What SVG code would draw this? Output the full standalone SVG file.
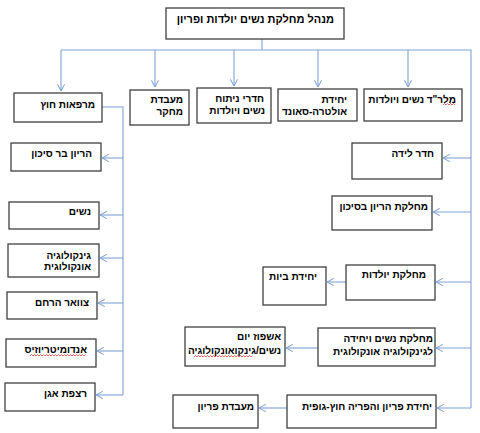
<svg xmlns="http://www.w3.org/2000/svg" width="480" height="433" viewBox="0 0 480 433">
<defs>
<style>
.b{fill:#fff;stroke:#404040;stroke-width:1.3}
.t{font-family:"Liberation Sans",Arial,sans-serif;font-size:10px;font-weight:bold;fill:#000;direction:rtl;text-anchor:start}
.h{font-size:11px}
.c{fill:none;stroke:#7fa3d6;stroke-width:1.1}
.s{fill:none;stroke:#e04040;stroke-width:0.8}
</style>
<marker id="a" viewBox="0 0 10 10" refX="9.5" refY="5" markerWidth="8" markerHeight="8" markerUnits="userSpaceOnUse" orient="auto">
<path d="M1,0.5 L9.5,5 L1,9.5" fill="none" stroke="#7fa3d6" stroke-width="1.3"/>
</marker>
</defs>
<rect width="480" height="433" fill="#fff"/>
<g id="connectors">
<path class="c" d="M262,39 V50 M61,50 H471 V408 M102,107 H123 V395"/>
<path class="c" marker-end="url(#a)" d="M61,50 V91"/>
<path class="c" marker-end="url(#a)" d="M155,50 V87"/>
<path class="c" marker-end="url(#a)" d="M234,50 V86"/>
<path class="c" marker-end="url(#a)" d="M318,50 V87"/>
<path class="c" marker-end="url(#a)" d="M408,50 V87"/>
<path class="c" marker-end="url(#a)" d="M471,158 H443"/>
<path class="c" marker-end="url(#a)" d="M471,212 H433"/>
<path class="c" marker-end="url(#a)" d="M471,282 H436"/>
<path class="c" marker-end="url(#a)" d="M471,348 H436"/>
<path class="c" marker-end="url(#a)" d="M471,408 H437"/>
<path class="c" marker-end="url(#a)" d="M346,282 H327"/>
<path class="c" marker-end="url(#a)" d="M318,348 H286"/>
<path class="c" marker-end="url(#a)" d="M287,408 H259"/>
<path class="c" marker-end="url(#a)" d="M123,158 H102"/>
<path class="c" marker-end="url(#a)" d="M123,215 H100"/>
<path class="c" marker-end="url(#a)" d="M123,258 H100"/>
<path class="c" marker-end="url(#a)" d="M123,303 H98"/>
<path class="c" marker-end="url(#a)" d="M123,351 H97"/>
<path class="c" marker-end="url(#a)" d="M123,395 H96"/>
</g>
<g id="n-head"><rect class="b" x="166" y="8" width="178" height="31"/><text class="t h" x="334" y="23">מנהל מחלקת נשים יולדות  ופריון</text></g>
<g id="n-clinics"><rect class="b" x="14" y="93" width="88" height="29"/><text class="t" x="95" y="108">מרפאות חוץ</text></g>
<g id="n-lab"><rect class="b" x="130" y="90" width="59" height="35"/><text class="t" x="183" y="103">מעבדת</text><text class="t" x="183" y="115">מחקר</text></g>
<g id="n-or"><rect class="b" x="197" y="88" width="74" height="35"/><text class="t" x="264" y="102">חדרי ניתוח</text><text class="t" x="265" y="114">נשים ויולדות</text></g>
<g id="n-us"><rect class="b" x="278" y="89" width="79" height="32"/><text class="t" x="347" y="103">יחידת</text><text class="t" x="347" y="115">אולטרה-סאונד</text></g>
<g id="n-er"><rect class="b" x="364" y="89" width="98" height="32"/><text class="t" x="456" y="103">מלר"ד נשים ויולדות</text><path class="s" d="M443,105 l1.5,-1.5 l1.5,1.5 l1.5,-1.5 l1.5,1.5 l1.5,-1.5 l1.5,1.5 l1.5,-1.5 l1.5,1.5"/></g>
<g id="n-highrisk"><rect class="b" x="11" y="143" width="90" height="28"/><text class="t" x="92" y="157">הריון בר סיכון</text></g>
<g id="n-women"><rect class="b" x="9" y="202" width="90" height="27"/><text class="t" x="91" y="215">נשים</text></g>
<g id="n-gynonc"><rect class="b" x="8" y="244" width="91" height="33"/><text class="t" x="91" y="259">גינקולוגיה</text><text class="t" x="91" y="270">אונקולוגית</text></g>
<g id="n-cervix"><rect class="b" x="7" y="292" width="90" height="27"/><text class="t" x="89" y="306">צוואר הרחם</text></g>
<g id="n-endo"><rect class="b" x="6" y="339" width="90" height="28"/><text class="t" x="87" y="353">אנדומיטריוזיס</text><path class="s" d="M30,356 l1.5,-1.5 l1.5,1.5 l1.5,-1.5 l1.5,1.5 l1.5,-1.5 l1.5,1.5 l1.5,-1.5 l1.5,1.5 l1.5,-1.5 l1.5,1.5 l1.5,-1.5 l1.5,1.5 l1.5,-1.5 l1.5,1.5 l1.5,-1.5 l1.5,1.5 l1.5,-1.5 l1.5,1.5 l1.5,-1.5 l1.5,1.5 l1.5,-1.5 l1.5,1.5 l1.5,-1.5 l1.5,1.5 l1.5,-1.5 l1.5,1.5 l1.5,-1.5 l1.5,1.5 l1.5,-1.5 l1.5,1.5 l1.5,-1.5 l1.5,1.5 l1.5,-1.5 l1.5,1.5 l1.5,-1.5 l1.5,1.5 l1.5,-1.5"/></g>
<g id="n-pelvic"><rect class="b" x="5" y="383" width="90" height="28"/><text class="t" x="87" y="397">רצפת אגן</text></g>
<g id="n-delivery"><rect class="b" x="352" y="143" width="90" height="36"/><text class="t" x="434" y="157">חדר לידה</text></g>
<g id="n-hrdept"><rect class="b" x="332" y="196" width="100" height="34"/><text class="t" x="428" y="210">מחלקת הריון בסיכון</text></g>
<g id="n-maternity"><rect class="b" x="346" y="265" width="89" height="35"/><text class="t" x="426" y="278">מחלקת יולדות</text></g>
<g id="n-rooming"><rect class="b" x="263" y="267" width="63" height="38"/><text class="t" x="317" y="280">יחידת ביות</text></g>
<g id="n-womendept"><rect class="b" x="318" y="328" width="117" height="38"/><text class="t" x="433" y="342">מחלקת נשים ויחידה</text><text class="t" x="433" y="355">לגינקולוגיה אונקולוגית</text></g>
<g id="n-dayhosp"><rect class="b" x="185" y="327" width="100" height="39"/><text class="t" x="281" y="340">אשפוז יום</text><text class="t" x="281" y="354">נשים/גינקואונקולוגיה</text><path class="s" d="M194,357 l1.5,-1.5 l1.5,1.5 l1.5,-1.5 l1.5,1.5 l1.5,-1.5 l1.5,1.5 l1.5,-1.5 l1.5,1.5 l1.5,-1.5 l1.5,1.5 l1.5,-1.5 l1.5,1.5 l1.5,-1.5 l1.5,1.5 l1.5,-1.5 l1.5,1.5 l1.5,-1.5 l1.5,1.5 l1.5,-1.5 l1.5,1.5 l1.5,-1.5 l1.5,1.5 l1.5,-1.5 l1.5,1.5 l1.5,-1.5 l1.5,1.5 l1.5,-1.5 l1.5,1.5 l1.5,-1.5 l1.5,1.5 l1.5,-1.5 l1.5,1.5 l1.5,-1.5 l1.5,1.5 l1.5,-1.5 l1.5,1.5 l1.5,-1.5 l1.5,1.5 l1.5,-1.5"/></g>
<g id="n-ivf"><rect class="b" x="287" y="395" width="149" height="33"/><text class="t" x="432" y="410">יחידת פריון והפריה חוץ-גופית</text></g>
<g id="n-ivflab"><rect class="b" x="173" y="395" width="85" height="33"/><text class="t" x="254" y="410">מעבדת פריון</text></g>
</svg>
